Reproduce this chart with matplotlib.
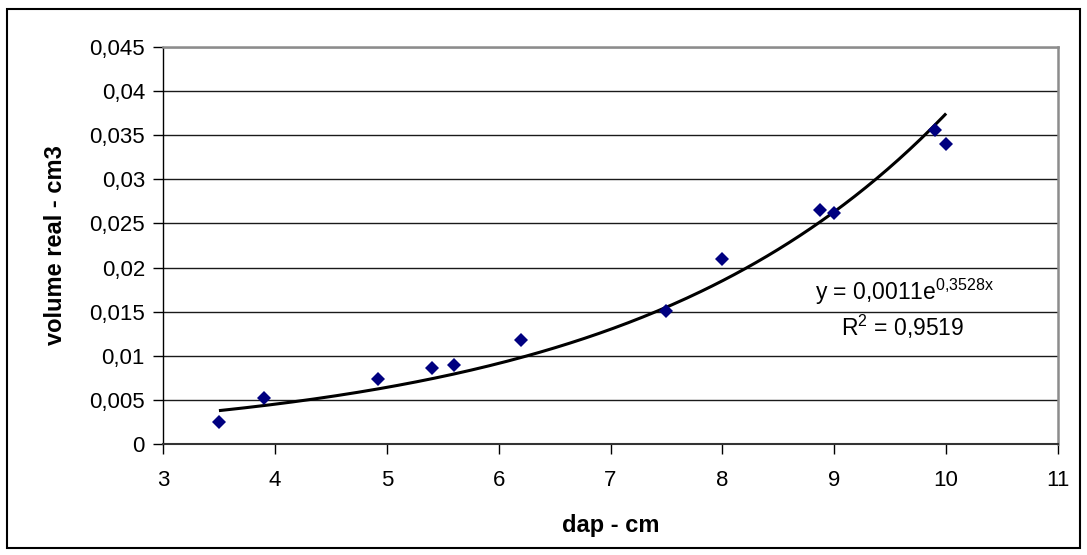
import numpy as np
import matplotlib
matplotlib.use("Agg")
import matplotlib.pyplot as plt
from matplotlib.ticker import MultipleLocator, FuncFormatter
from matplotlib.patches import Rectangle

plt.rcParams['font.family'] = ['Liberation Sans', 'DejaVu Sans']
plt.rcParams['mathtext.fontset'] = 'custom'
plt.rcParams['mathtext.rm'] = 'Liberation Sans'
plt.rcParams['mathtext.it'] = 'Liberation Sans'
plt.rcParams['mathtext.default'] = 'regular'

# diameter at breast height (cm) and measured volume
dap = [3.5, 3.9, 4.92, 5.4, 5.6, 6.2, 7.5, 8.0, 8.87, 9.0, 9.9, 10.0]
volume = [0.0025, 0.0052, 0.0074, 0.0086, 0.0090, 0.0118, 0.0151, 0.0210,
          0.0265, 0.0262, 0.0356, 0.0340]

# exponential trend fitted to the data
fit_a = 0.0011
fit_b = 0.3528
fit_r2 = 0.9519

W, H = 1087, 555
fig = plt.figure(figsize=(W / 100, H / 100), dpi=100)
left, right, top, bottom = 163, 1058, 47, 444
ax = fig.add_axes([left / W, 1 - bottom / H, (right - left) / W, (bottom - top) / H])

ax.set_xlim(3, 11)
ax.set_ylim(0, 0.045)
ax.xaxis.set_major_locator(MultipleLocator(1))
ax.yaxis.set_major_locator(MultipleLocator(0.005))


def comma_fmt(v, pos):
    s = f"{v:.3f}".rstrip('0').rstrip('.')
    return s.replace('.', ',')


ax.yaxis.set_major_formatter(FuncFormatter(comma_fmt))
ax.xaxis.set_major_formatter(FuncFormatter(lambda v, p: f"{v:.0f}"))

ax.grid(axis='y', color='#1a1a1a', linewidth=1.0)
ax.set_axisbelow(True)

for side in ('top', 'right'):
    ax.spines[side].set_color('#8c8c8c')
    ax.spines[side].set_linewidth(1.8)
ax.spines['left'].set_color('black')
ax.spines['left'].set_linewidth(1.0)
ax.spines['bottom'].set_color('#333333')
ax.spines['bottom'].set_linewidth(1.5)

ax.tick_params(axis='both', direction='out', length=7, width=1.0,
               color='black', labelsize=16, labelcolor='black')
ax.tick_params(axis='x', pad=12)
ax.tick_params(axis='y', pad=6)

# trend line
xs = np.linspace(min(dap), max(dap), 200)
ax.plot(xs, fit_a * np.exp(fit_b * xs), color='black', linewidth=2.2,
        solid_capstyle='butt', zorder=3)

# observations
ax.plot(dap, volume, linestyle='none', marker='D', markersize=7.5,
        color='#000080', markeredgewidth=0, zorder=4)

# trend equation and coefficient of determination
b_txt = f"{fit_b:.4f}".replace('.', '{,}')
eq_txt = "y = " + f"{fit_a:.4f}".replace('.', ',') + "e$^{" + b_txt + "x}$"
r2_txt = "R$^{2}$ = " + f"{fit_r2:.4f}".replace('.', ',')
fig.text(905 / W, 1 - 292 / H, eq_txt, fontsize=16.5, ha='center', va='center')
fig.text(903 / W, 1 - 327 / H, r2_txt, fontsize=16.5, ha='center', va='center')

ax.set_xlabel("dap - cm", fontsize=17, fontweight='bold', labelpad=16)
ax.set_ylabel("volume real - cm3", fontsize=17, fontweight='bold', labelpad=16)

# frame around the whole chart
fig.patches.append(Rectangle((7 / W, 1 - 548 / H), 1073 / W, 539 / H,
                             transform=fig.transFigure, fill=False,
                             edgecolor='black', linewidth=1.5))

fig.savefig("out.png", dpi=100)
